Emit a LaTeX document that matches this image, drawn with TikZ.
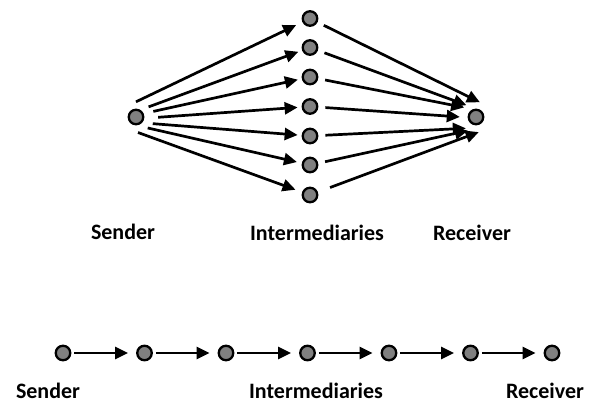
\documentclass[tikz,border=0pt]{standalone}
\usepackage{fontspec}
\setmainfont{Carlito}
\usetikzlibrary{arrows.meta}
\begin{document}
\begin{tikzpicture}[x=1pt,y=-1pt,
  dot/.style={circle,draw=black,line width=2.3pt,fill=black!50,minimum size=14.5pt,inner sep=0pt},
  halo/.style={circle,minimum size=30pt,inner sep=0pt},
  lbl/.style={font=\fontsize{22}{26}\selectfont\bfseries,inner sep=0pt},
  arr/.style={line width=2.7pt,-{Triangle[length=13pt,width=12pt]}}]
\useasboundingbox (0,0) rectangle (593,403);
% top diagram
\node[dot] (s) at (136,117) {};
\node[dot] (r) at (476,117) {};
\node[halo] (sh) at (136,117) {};
\node[halo] (rh) at (476,117) {};
\foreach \i/\y in {1/18.5,2/47.5,3/77,4/106.5,5/136,6/165,7/195}{
  \node[dot] (m\i) at (310,\y) {};
}
\foreach \i/\ang/\a/\b in {1/90/0/7,2/40/1/4,3/19/3/4,4/-3/7/4,5/-25/3/4,6/-45/1/5,7/-86/1/7}{
  \draw[arr,shorten <=\a pt,shorten >=\b pt] (sh.\ang) -- (m\i);
}
\foreach \i/\ang/\a/\b in {1/75/7/0,2/129/7/0,3/141/7/0,4/180/7/1,5/228/7/0,6/242/7/1,7/284/13/1}{
  \draw[arr,shorten <=\a pt,shorten >=\b pt] (m\i) -- (rh.\ang);
}
\node[lbl] (ls) at (123,232) {Sender};
\node[lbl] (li) at (317,233) {Intermediaries};
\node[lbl] (lr) at (472,233) {Receiver};
% bottom chain
\foreach \i/\x in {1/63,2/144.5,3/226,4/307.5,5/389,6/470.5,7/552}{
  \node[dot] (c\i) at (\x,353) {};
}
\foreach \i/\j in {1/2,2/3,3/4,4/5,5/6,6/7}{
  \draw[arr,shorten <=3pt,shorten >=8pt] (c\i) -- (c\j);
}
\node[lbl] (bs) at (48,391) {Sender};
\node[lbl] (bi) at (316,391) {Intermediaries};
\node[lbl] (br) at (545,391) {Receiver};
\end{tikzpicture}
\end{document}
